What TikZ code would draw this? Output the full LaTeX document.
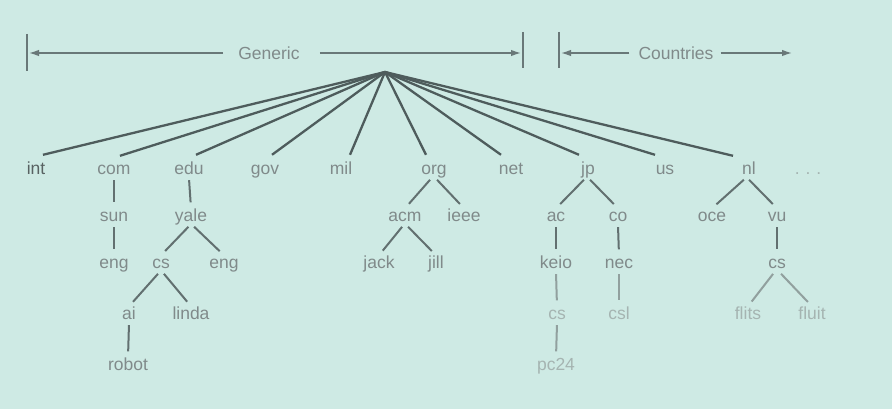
\documentclass[tikz,border=0pt]{standalone}
\usepackage{fontspec}
\setmainfont{Liberation Sans}
\usetikzlibrary{arrows.meta}
\definecolor{bg}{RGB}{206,234,228}
\definecolor{txt}{RGB}{128,138,138}
\definecolor{txtdark}{RGB}{88,98,98}
\definecolor{txtpale}{RGB}{165,180,177}
\definecolor{fan}{RGB}{78,92,92}
\definecolor{ln}{RGB}{98,112,112}
\definecolor{lnpale}{RGB}{145,160,158}
\definecolor{hdr}{RGB}{105,120,120}
\begin{document}
\begin{tikzpicture}[x=1pt,y=-1pt,
  lbl/.style={font=\fontsize{17.5}{18}\selectfont, text=txt, inner sep=0pt, text height=13pt, text depth=4pt},
  pale/.style={text=txtpale},
  hdrtxt/.style={font=\fontsize{17.5}{18}\selectfont, text=txt, inner sep=0pt},
  fanline/.style={draw=fan, line width=2.3pt},
  treeline/.style={draw=ln, line width=2pt, shorten >=6pt, shorten <=1.5pt},
  paleline/.style={draw=lnpale, line width=2pt, shorten >=6pt, shorten <=1.5pt},
  hdrline/.style={draw=hdr, line width=1.4pt},
  hdrarrow/.style={hdrline, -{Latex[length=10pt,width=6.5pt]}}
]
\fill[bg] (0,0) rectangle (892,409);
\useasboundingbox (0,0) rectangle (892,409);

% header
\node[hdrtxt] (gen) at (269,53) {Generic};
\node[hdrtxt] (ctr) at (676,53) {Countries};
\coordinate (gl) at (29,53);
\coordinate (gr) at (521,53);
\coordinate (cl) at (561,53);
\coordinate (cr) at (792,53);
\coordinate (b1t) at (27,34);  \coordinate (b1b) at (27,71);
\coordinate (b2t) at (523,32); \coordinate (b2b) at (523,68);
\coordinate (b3t) at (559,32); \coordinate (b3b) at (559,68);
\draw[hdrline] (b1t) -- (b1b);
\draw[hdrline] (b2t) -- (b2b);
\draw[hdrline] (b3t) -- (b3b);
\draw[hdrarrow, shorten <=15pt] (gen) -- (gl);
\draw[hdrarrow, shorten <=20pt] (gen) -- (gr);
\draw[hdrarrow, shorten <=9pt] (ctr) -- (cl);
\draw[hdrarrow, shorten <=7pt] (ctr) -- (cr);

% root
\coordinate (root) at (385,72);

% top level
\node[lbl,text=txtdark] (int) at (36,170) {int};
\node[lbl] (com) at (114,170) {com};
\node[lbl] (edu) at (189,170) {edu};
\node[lbl] (gov) at (265,170) {gov};
\node[lbl] (mil) at (341,170) {mil};
\node[lbl] (org) at (434,170) {org};
\node[lbl] (net) at (511,170) {net};
\node[lbl] (jp) at (588,170) {jp};
\node[lbl] (us) at (665,170) {us};
\node[lbl] (nl) at (749,170) {nl};
\node[lbl,pale] (dots) at (808,170) {.\,\,.\,\,.};

% level 2
\node[lbl] (sun) at (114,217) {sun};
\node[lbl] (yale) at (191,217) {yale};
\node[lbl] (acm) at (405,217) {acm};
\node[lbl] (ieee) at (464,217) {ieee};
\node[lbl] (ac) at (556,217) {ac};
\node[lbl] (co) at (618,217) {co};
\node[lbl] (oce) at (712,217) {oce};
\node[lbl] (vu) at (777,217) {vu};

% level 3
\node[lbl] (eng1) at (114,264) {eng};
\node[lbl] (cs1) at (161,264) {cs};
\node[lbl] (eng2) at (224,264) {eng};
\node[lbl] (jack) at (379,264) {jack};
\node[lbl] (jill) at (436,264) {jill};
\node[lbl] (keio) at (556,264) {keio};
\node[lbl] (nec) at (619,264) {nec};
\node[lbl] (cs2) at (777,264) {cs};

% level 4
\node[lbl] (ai) at (129,315) {ai};
\node[lbl] (linda) at (191,315) {linda};
\node[lbl,pale] (cs3) at (557,315) {cs};
\node[lbl,pale] (csl) at (619,315) {csl};
\node[lbl,pale] (flits) at (748,315) {flits};
\node[lbl,pale] (fluit) at (812,315) {fluit};

% level 5
\node[lbl] (robot) at (128,366) {robot};
\node[lbl,pale] (pc24) at (556,366) {pc24};

% fan from root
\draw[fanline] (root) -- ([shift={(7,-6.5)}]int.north);
\draw[fanline] (root) -- ([shift={(6,-5.5)}]com.north);
\draw[fanline] (root) -- ([shift={(7,-6.5)}]edu.north);
\draw[fanline] (root) -- ([shift={(7,-6.5)}]gov.north);
\draw[fanline] (root) -- ([shift={(9,-6.5)}]mil.north);
\draw[fanline] (root) -- ([shift={(-8,-6.5)}]org.north);
\draw[fanline] (root) -- ([shift={(-10,-6.5)}]net.north);
\draw[fanline] (root) -- ([shift={(-9,-6.5)}]jp.north);
\draw[fanline] (root) -- ([shift={(-10,-6.5)}]us.north);
\draw[fanline] (root) -- ([shift={(-16,-5.5)}]nl.north);

% subtrees
\draw[treeline] (com.south) -- (sun.north);
\draw[treeline] (sun.south) -- (eng1.north);
\draw[treeline] (edu.south) -- (yale.north);
\draw[treeline] ([xshift=-1.5pt]yale.south) -- (cs1.north);
\draw[treeline] ([xshift=2pt]yale.south) -- (eng2.north);
\draw[treeline] ([xshift=-2pt]cs1.south) -- (ai.north);
\draw[treeline] ([xshift=2pt]cs1.south) -- (linda.north);
\draw[treeline] (ai.south) -- (robot.north);
\draw[treeline] ([xshift=-3pt]org.south) -- (acm.north);
\draw[treeline] ([xshift=2pt]org.south) -- (ieee.north);
\draw[treeline] ([xshift=-2pt]acm.south) -- (jack.north);
\draw[treeline] ([xshift=2pt]acm.south) -- (jill.north);
\draw[treeline] ([xshift=-3pt]jp.south) -- (ac.north);
\draw[treeline] ([xshift=1pt]jp.south) -- (co.north);
\draw[treeline] (ac.south) -- (keio.north);
\draw[treeline] (co.south) -- (nec.north);
\draw[paleline] (keio.south) -- (cs3.north);
\draw[paleline] (cs3.south) -- (pc24.north);
\draw[paleline] (nec.south) -- (csl.north);
\draw[treeline] ([xshift=-4pt]nl.south) -- (oce.north);
\draw[treeline] ([xshift=-1pt]nl.south) -- (vu.north);
\draw[treeline] (vu.south) -- (cs2.north);
\draw[paleline] ([xshift=-3pt]cs2.south) -- (flits.north);
\draw[paleline] ([xshift=3pt]cs2.south) -- (fluit.north);
\end{tikzpicture}
\end{document}
